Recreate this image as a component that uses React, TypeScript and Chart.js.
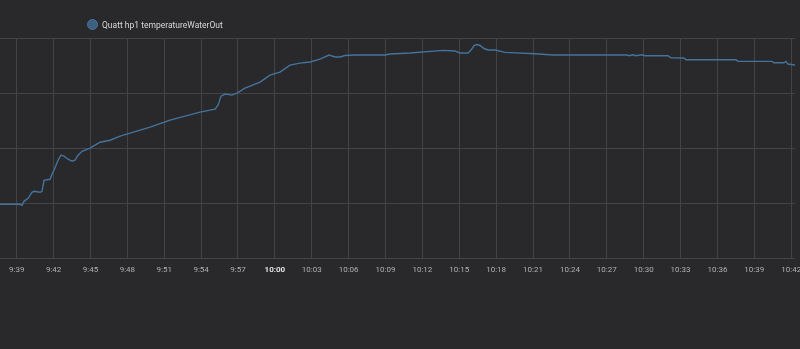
import React, { useEffect, useRef } from "react";
import { Chart, registerables } from "chart.js";

Chart.register(...registerables);

// minutes after 9:00
const times: number[] = [
  37.64, 39.27, 39.43, 39.59, 39.92, 40.08, 40.24, 40.41, 40.9, 41.06,
  41.22, 41.71, 41.87, 42.03, 42.2, 42.36, 42.6, 42.85, 43.17, 43.5,
  43.74, 43.99, 44.31, 44.96, 45.37, 45.78, 46.59, 47.41, 49.85, 51.47,
  53.91, 54.73, 55.13, 55.38, 55.62, 55.95, 56.52, 56.92, 57.57, 57.98,
  58.79, 59.6, 60.42, 61.23, 62.05, 62.86, 63.67, 64.41, 64.89, 65.3,
  65.71, 66.52, 68.96, 69.37, 71.0, 73.68, 74.66, 75.06, 75.71, 75.96,
  76.2, 76.45, 76.69, 77.02, 77.34, 77.91, 78.72, 81.16, 82.62, 88.64,
  88.8, 89.13, 89.37, 89.86, 90.11, 91.98, 92.22, 93.28, 93.45, 97.51,
  97.67, 100.44, 100.6, 101.41, 101.57, 101.74, 102.31,
];

const waterOut: number[] = [
  24.82, 24.82, 24.64, 25.36, 25.91, 26.45, 27.0, 27.18, 27.0, 27.18,
  29.18, 29.36, 30.27, 31.0, 31.91, 32.82, 33.73, 33.55, 33.0, 32.64,
  32.82, 33.73, 34.45, 35.0, 35.55, 36.09, 36.45, 37.18, 38.82, 40.09,
  41.55, 41.91, 42.09, 42.82, 44.45, 44.82, 44.64, 45.0, 45.91, 46.27,
  47.0, 48.27, 48.82, 50.09, 50.45, 50.64, 51.18, 51.91, 51.55, 51.55,
  51.82, 51.91, 51.91, 52.09, 52.27, 52.76, 52.64, 52.27, 52.27, 52.82,
  53.64, 53.82, 53.64, 53.09, 52.82, 52.82, 52.4, 52.15, 51.91, 51.91,
  51.78, 51.96, 51.78, 51.96, 51.78, 51.78, 51.42, 51.36, 51.05, 51.05,
  50.76, 50.76, 50.51, 50.51, 50.76, 50.27, 50.09,
];

const tickMinutes: number[] = [
  39, 42, 45, 48, 51, 54, 57, 60, 63, 66, 69, 72, 75, 78, 81, 84, 87, 90,
  93, 96, 99, 102,
];

const seriesLabel = "Quatt hp1 temperatureWaterOut";
const lineColor = "#44739e";

const fmt = (m: number) => {
  const h = 9 + Math.floor(m / 60);
  const mm = Math.round(m % 60);
  return `${h}:${mm < 10 ? "0" + mm : mm}`;
};

export default function App() {
  const ref = useRef<HTMLCanvasElement | null>(null);
  useEffect(() => {
    if (!ref.current) return;
    const chart = new Chart(ref.current, {
      type: "line",
      data: {
        datasets: [
          {
            label: seriesLabel,
            data: times.map((t, i) => ({ x: t, y: waterOut[i] })),
            borderColor: lineColor,
            backgroundColor: lineColor,
            borderWidth: 1.4,
            pointRadius: 0,
            tension: 0,
          },
        ],
      },
      options: {
        animation: false,
        responsive: true,
        maintainAspectRatio: false,
        layout: { padding: { left: 0, right: 5, top: 38, bottom: 67 } },
        plugins: { legend: { display: false }, tooltip: { enabled: false } },
        scales: {
          x: {
            type: "linear",
            min: 37.64,
            max: 102.31,
            afterBuildTicks: (scale: any) => {
              scale.ticks = tickMinutes.map((v) => ({ value: v }));
            },
            afterFit: (scale: any) => {
              scale.paddingLeft = 0;
              scale.paddingRight = 0;
            },
            ticks: {
              autoSkip: false,
              maxRotation: 0,
              padding: 7,
              color: (c: any) => (c.tick && c.tick.value === 60 ? "#e1e1e1" : "#b0b0b0"),
              font: (c: any) => ({
                family: "Roboto",
                size: 8,
                weight: c.tick && c.tick.value === 60 ? "bold" : "normal",
              }),
              callback: (v: any) => fmt(Number(v)),
            },
            grid: { color: "#444446", drawTicks: false },
            border: { display: false },
          },
          y: {
            min: 15,
            max: 55,
            ticks: { display: false, stepSize: 10 },
            grid: { color: "#444446", drawTicks: false },
            border: { display: false },
          },
        },
      },
    });
    return () => chart.destroy();
  }, []);

  return (
    <div
      style={{
        position: "absolute",
        left: 0,
        top: 0,
        width: 800,
        height: 349,
        background: "#29292b",
        fontFamily: "Roboto",
      }}
    >
      <div
        style={{
          position: "absolute",
          left: 87,
          top: 19,
          display: "flex",
          alignItems: "center",
          height: 11,
        }}
      >
        <span
          style={{
            display: "inline-block",
            width: 9,
            height: 9,
            borderRadius: "50%",
            background: "rgba(68,115,158,0.75)",
            border: "1px solid #44739e",
            marginRight: 4,
          }}
        />
        <span style={{ color: "#d8d8d8", fontSize: 8.5, whiteSpace: "nowrap" }}>
          {seriesLabel}
        </span>
      </div>
      <canvas ref={ref} />
    </div>
  );
}
